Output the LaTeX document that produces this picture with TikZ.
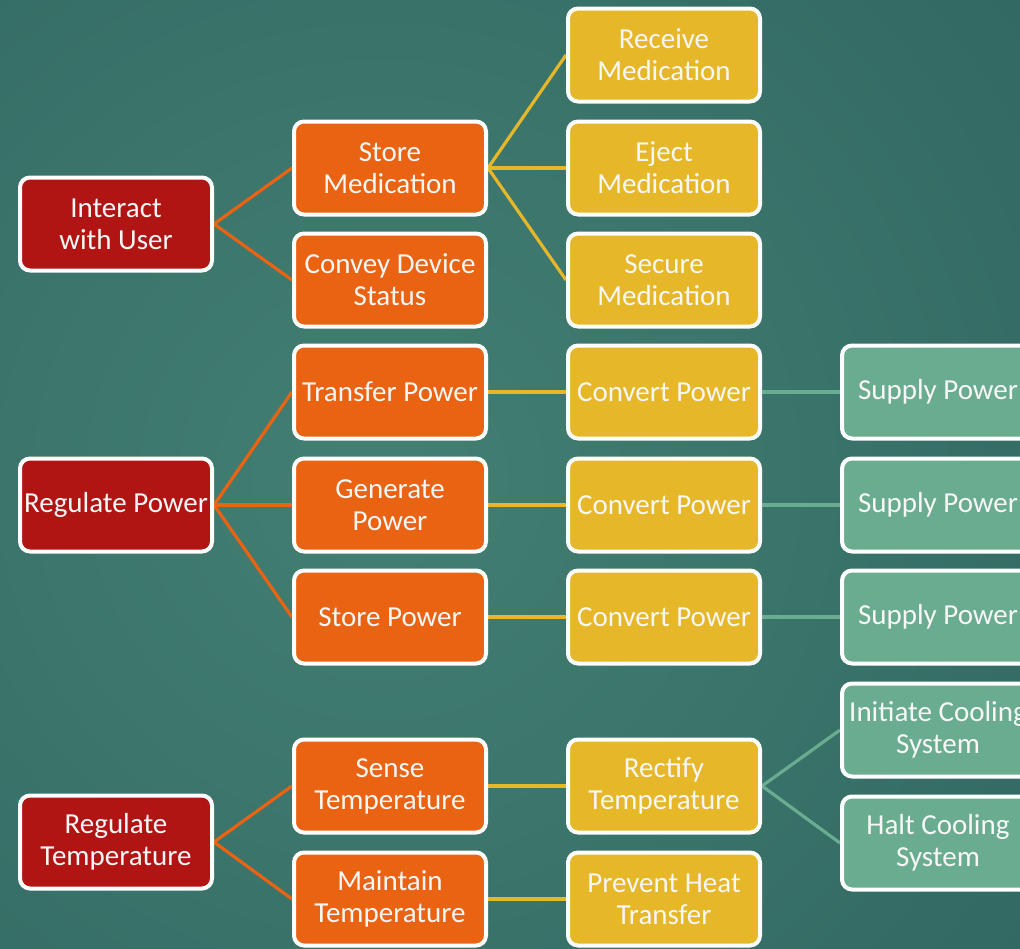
\documentclass[tikz,border=0pt]{standalone}
\usepackage{fontspec}
\setmainfont{Carlito}
\pgfdeclarelayer{back}
\pgfdeclarelayer{lines}
\pgfsetlayers{back,lines,main}
\definecolor{bgin}{HTML}{437F72}
\definecolor{bgout}{HTML}{235656}
\definecolor{cred}{HTML}{B01513}
\definecolor{corange}{HTML}{EA6312}
\definecolor{cyellow}{HTML}{E6B729}
\definecolor{cgreen}{HTML}{6AAC90}
\definecolor{ctext}{HTML}{F7F7F7}
\tikzset{
  box/.style={draw=white, line width=4pt, rounded corners=10pt,
    minimum width=192pt, minimum height=93pt, inner sep=1pt,
    text=ctext, align=center, font=\fontsize{29}{32}\selectfont},
  redbox/.style={box, fill=cred},
  orangebox/.style={box, fill=corange},
  yellowbox/.style={box, fill=cyellow},
  greenbox/.style={box, fill=cgreen},
  link/.style={line width=3.2pt},
  olink/.style={link, draw=corange},
  ylink/.style={link, draw=cyellow},
  glink/.style={link, draw=cgreen}
}
\begin{document}
\begin{tikzpicture}[x=1pt,y=-1pt]
\useasboundingbox (0,0) rectangle (1020,948);
\begin{pgfonlayer}{back}
\begin{scope}
\clip (0,0) rectangle (1020,948);
\shade[inner color=bgin, outer color=bgout] (380,480) circle (1500);
\end{scope}
\end{pgfonlayer}
% column 1
\node[redbox] (iu) at (116,224) {Interact\\with User};
\node[redbox] (rp) at (116,505) {Regulate Power};
\node[redbox] (rt) at (116,842) {Regulate\\Temperature};
% column 2
\node[orangebox] (sm) at (390,168) {Store\\Medication};
\node[orangebox] (cd) at (390,280) {Convey Device\\Status};
\node[orangebox] (tp) at (390,392) {Transfer Power};
\node[orangebox] (gp) at (390,505) {Generate\\Power};
\node[orangebox] (sp) at (390,617) {Store Power};
\node[orangebox] (st) at (390,786) {Sense\\Temperature};
\node[orangebox] (mt) at (390,899) {Maintain\\Temperature};
% column 3
\node[yellowbox] (rm) at (664,55) {Receive\\Medication};
\node[yellowbox] (em) at (664,168) {Eject\\Medication};
\node[yellowbox] (sec) at (664,280) {Secure\\Medication};
\node[yellowbox] (cp1) at (664,392) {Convert Power};
\node[yellowbox] (cp2) at (664,505) {Convert Power};
\node[yellowbox] (cp3) at (664,617) {Convert Power};
\node[yellowbox] (rct) at (664,786) {Rectify\\Temperature};
\node[yellowbox] (ph) at (664,899) {Prevent Heat\\Transfer};
% column 4
\node[greenbox] (su1) at (938,392) {Supply Power};
\node[greenbox] (su2) at (938,505) {Supply Power};
\node[greenbox] (su3) at (938,617) {Supply Power};
\node[greenbox] (ic) at (938,730) {Initiate Cooling\\System};
\node[greenbox] (hc) at (938,843) {Halt Cooling\\System};
\begin{pgfonlayer}{lines}
\draw[olink] (iu.east) -- (sm.west);
\draw[olink] (iu.east) -- (cd.west);
\draw[olink] (rp.east) -- (tp.west);
\draw[olink] (rp.east) -- (gp.west);
\draw[olink] (rp.east) -- (sp.west);
\draw[olink] (rt.east) -- (st.west);
\draw[olink] (rt.east) -- (mt.west);
\draw[ylink] (sm.east) -- (rm.west);
\draw[ylink] (sm.east) -- (em.west);
\draw[ylink] (sm.east) -- (sec.west);
\draw[ylink] (tp.east) -- (cp1.west);
\draw[ylink] (gp.east) -- (cp2.west);
\draw[ylink] (sp.east) -- (cp3.west);
\draw[ylink] (st.east) -- (rct.west);
\draw[ylink] (mt.east) -- (ph.west);
\draw[glink] (cp1.east) -- (su1.west);
\draw[glink] (cp2.east) -- (su2.west);
\draw[glink] (cp3.east) -- (su3.west);
\draw[glink] (rct.east) -- (ic.west);
\draw[glink] (rct.east) -- (hc.west);
\end{pgfonlayer}
\end{tikzpicture}
\end{document}
